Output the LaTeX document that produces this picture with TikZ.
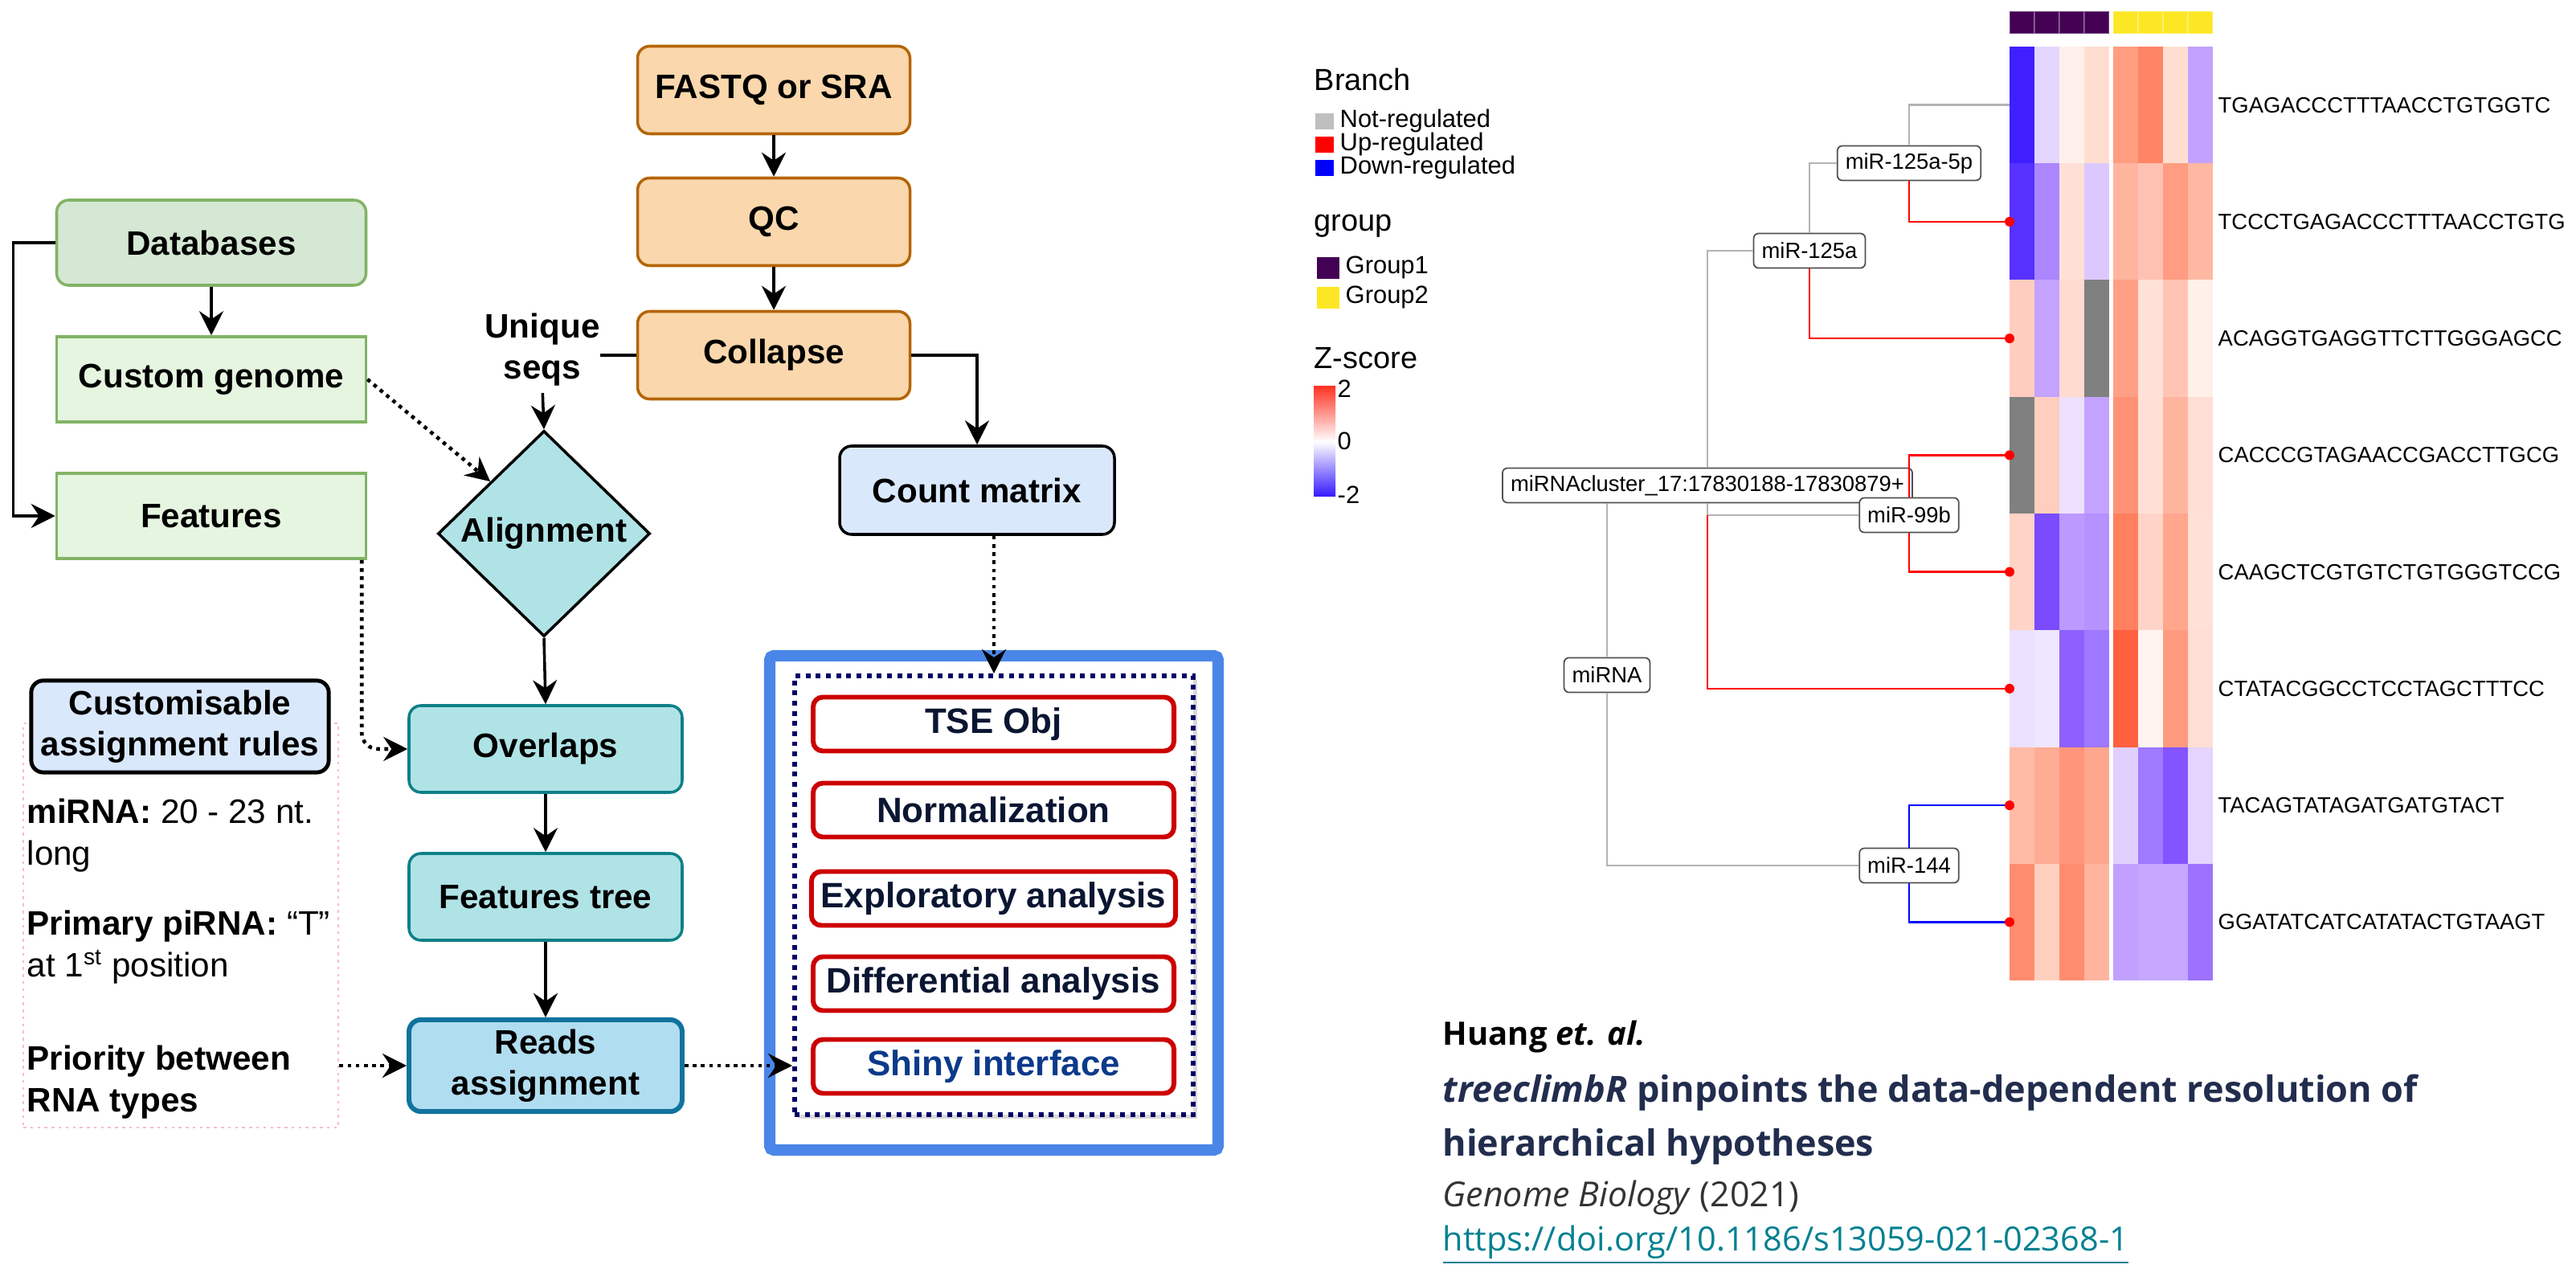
\documentclass[tikz,border=0pt]{standalone}
\usepackage{fontspec}
\setmainfont{Liberation Sans}
\newfontfamily\citefont{Open Sans}
\usepackage{xcolor}
\usepackage{tikz}
\usetikzlibrary{shapes.geometric, arrows.meta, positioning, calc, shadows}
\definecolor{orangefill}{RGB}{250, 215, 172}
\definecolor{orangeline}{RGB}{180, 101, 4}
\definecolor{dbfill}{RGB}{213, 232, 212}
\definecolor{genomefill}{RGB}{229, 245, 224}
\definecolor{greenline}{RGB}{130, 179, 102}
\definecolor{tealfill}{RGB}{176, 227, 230}
\definecolor{tealline}{RGB}{14, 128, 136}
\definecolor{readsfill}{RGB}{177, 221, 240}
\definecolor{readsline}{RGB}{16, 115, 158}
\definecolor{lightblue}{RGB}{218, 232, 252}
\definecolor{pinkline}{RGB}{246, 190, 200}
\definecolor{frameblue}{RGB}{74, 134, 232}
\definecolor{navydot}{RGB}{0, 0, 102}
\definecolor{boxred}{RGB}{204, 0, 0}
\definecolor{darknavy}{RGB}{10, 22, 50}
\definecolor{shinyblue}{RGB}{12, 58, 138}
\definecolor{treegray}{RGB}{179, 179, 179}
\definecolor{labelline}{RGB}{80, 80, 80}
\definecolor{groupone}{RGB}{68, 1, 84}
\definecolor{grouptwo}{RGB}{253, 231, 37}
\definecolor{zred}{RGB}{255, 52, 36}
\definecolor{zblue}{RGB}{52, 24, 255}
\definecolor{titlenavy}{RGB}{34, 45, 78}
\definecolor{citegray}{RGB}{51, 51, 51}
\definecolor{urlteal}{RGB}{0, 128, 145}
\newcommand{\flowfont}{\fontsize{12}{14.6}\selectfont\bfseries}
\newcommand{\toolfont}{\fontsize{12.5}{15}\selectfont\bfseries}
\newcommand{\treefont}{\fontsize{7.8}{9}\selectfont}
\newcommand{\legendfont}{\fontsize{8.8}{10}\selectfont}
\newcommand{\legendtitle}{\fontsize{10.8}{12}\selectfont}
\newcommand{\citesize}{\citefont\fontsize{11.4}{14}\selectfont}
\tikzstyle{orangebox} = [rectangle, rounded corners=0.15cm, draw=orangeline, fill=orangefill, line width=1pt, font=\flowfont, align=center, minimum width=3.39cm, minimum height=1.09cm]
\tikzstyle{greenbox} = [rectangle, draw=greenline, fill=genomefill, line width=1pt, font=\flowfont, align=center, minimum width=3.85cm, minimum height=1.06cm]
\tikzstyle{tealbox} = [rectangle, rounded corners=0.15cm, draw=tealline, fill=tealfill, line width=1pt, font=\flowfont, align=center, minimum width=3.40cm, minimum height=1.08cm]
\tikzstyle{toolbox} = [rectangle, rounded corners=0.12cm, draw=boxred, fill=white, line width=1.7pt, font=\toolfont, text=darknavy, minimum width=4.49cm, minimum height=0.67cm]
\tikzstyle{treelabel} = [rectangle, rounded corners=0.06cm, draw=labelline, fill=white, line width=0.5pt, font=\treefont, minimum height=0.43cm, inner xsep=0.1cm, inner ysep=0pt]
\tikzstyle{seqlabel} = [anchor=west, font=\treefont, inner sep=0pt]
\tikzstyle{ruletext} = [anchor=west, align=left, font=\fontsize{12}{14.8}\selectfont, inner sep=0pt]
\tikzstyle{arrow} = [-{Stealth[length=3mm, width=3mm, inset=1mm]}, line width=1pt]
\tikzstyle{dotarrow} = [-{Stealth[length=3mm, width=3mm, inset=1mm]}, line width=1.3pt, dash pattern=on 1.3pt off 1.6pt]
\tikzstyle{grayline} = [draw=treegray, line width=0.7pt]
\tikzstyle{upline} = [draw=red, line width=0.7pt]
\tikzstyle{downline} = [draw=blue, line width=0.7pt]

\begin{document}
\begin{tikzpicture}
    \useasboundingbox (0,0) rectangle (32.06,-15.94);

    % Input and preprocessing
    \node[orangebox] (fastq) at (9.63,-1.12) {FASTQ or SRA};
    \node[orangebox] (qc) at (9.63,-2.76) {QC};
    \node[orangebox] (collapse) at (9.63,-4.42) {Collapse};
    \draw[arrow] (fastq) -- (qc);
    \draw[arrow] (qc) -- (collapse);

    % Annotation sources
    \node[greenbox, fill=dbfill, rounded corners=0.15cm] (db) at (2.63,-3.02) {Databases};
    \node[greenbox] (genome) at (2.63,-4.72) {Custom genome};
    \node[greenbox] (features) at (2.63,-6.42) {Features};
    \draw[arrow] (db) -- (genome);
    \draw[arrow] (db.west) -- ++(-0.52,0) |- (features.west);

    % Alignment and overlaps
    \node[font=\flowfont, align=center, inner sep=0pt] (uniq) at (6.75,-4.35) {Unique\\seqs};
    \node[diamond, draw, fill=tealfill, line width=1pt, font=\flowfont, inner sep=0pt, minimum width=2.64cm, minimum height=2.56cm] (align) at (6.77,-6.64) {Alignment};
    \node[tealbox] (overlaps) at (6.79,-9.32) {Overlaps};
    \node[tealbox] (ftree) at (6.79,-11.16) {Features tree};
    \node[tealbox, draw=readsline, fill=readsfill, line width=1.7pt, minimum height=1.1cm] (reads) at (6.79,-13.26) {Reads\\assignment};
    \draw[line width=1pt] (collapse.west) -- (uniq.east |- collapse.west);
    \draw[arrow, shorten <=0.08cm] (uniq.south) -- (align.north);
    \draw[dotarrow] (genome.east) -- (align.north west);
    \draw[dotarrow, rounded corners=0.2cm] ([xshift=-0.07cm]features.south east) |- (overlaps.west);
    \draw[arrow] (align.south) -- (overlaps.north);
    \draw[arrow] (overlaps) -- (ftree);
    \draw[arrow] (ftree) -- (reads);

    % Assignment rules
    \node[draw=pinkline, dash pattern=on 1pt off 1.5pt, line width=0.8pt, minimum width=3.92cm, minimum height=5.03cm] (rulezone) at (2.25,-11.515) {};
    \node[rectangle, rounded corners=0.15cm, draw, fill=lightblue, line width=1.4pt, font=\flowfont, align=center, minimum width=3.62cm, minimum height=1.08cm] (rules) at (2.24,-9.04) {Customisable\\assignment rules};
    \node[ruletext] (rule1) at (0.33,-10.40) {\textbf{miRNA:} 20 - 23 nt.\\long};
    \node[ruletext] (rule2) at (0.33,-11.79) {\textbf{Primary piRNA:} “T”\\at 1\textsuperscript{st} position};
    \node[ruletext] (rule3) at (0.33,-13.47) {\textbf{Priority between}\\\textbf{RNA types}};
    \draw[dotarrow] (rulezone.east |- reads.west) -- (reads.west);

    % Count matrix and downstream tools
    \node[rectangle, rounded corners=0.15cm, draw, fill=lightblue, line width=1pt, font=\flowfont, minimum width=3.42cm, minimum height=1.10cm] (cm) at (12.16,-6.10) {Count matrix};
    \draw[arrow] (collapse.east) -| (cm.north);
    \node[draw=frameblue, line width=4pt, rounded corners=0.05cm, minimum width=5.58cm, minimum height=6.15cm] (frame) at (12.37,-11.235) {};
    \node[draw=navydot, fill=white, line width=1.7pt, dash pattern=on 1.7pt off 1.9pt, minimum width=4.96cm, minimum height=5.46cm, drop shadow={shadow xshift=0.05cm, shadow yshift=-0.05cm, fill=black!30}] (tools) at (12.37,-11.14) {};
    \node[toolbox] (tse) at (12.365,-9.01) {TSE Obj};
    \node[toolbox] (norm) at (12.365,-10.08) {Normalization};
    \node[toolbox] (explo) at (12.365,-11.18) {Exploratory analysis};
    \node[toolbox] (diff) at (12.365,-12.24) {Differential analysis};
    \node[toolbox, text=shinyblue] (shiny) at (12.365,-13.27) {Shiny interface};
    \draw[dotarrow] (cm.south -| tools.north) -- (tools.north);
    \draw[dotarrow] (reads.east) -- (reads.east -| tools.west);

    % Legend
    \node[anchor=west, font=\legendtitle, inner sep=0pt] (branchtitle) at (16.35,-0.99) {Branch};
    \fill[black!25] (16.37,-1.41) rectangle (16.60,-1.61);
    \fill[red] (16.37,-1.70) rectangle (16.60,-1.90);
    \fill[blue] (16.37,-1.99) rectangle (16.60,-2.19);
    \node[anchor=west, font=\legendfont, inner sep=0pt] (notreg) at (16.67,-1.51) {Not-regulated};
    \node[anchor=west, font=\legendfont, inner sep=0pt] (upreg) at (16.67,-1.80) {Up-regulated};
    \node[anchor=west, font=\legendfont, inner sep=0pt] (downreg) at (16.67,-2.09) {Down-regulated};
    \node[anchor=west, font=\legendtitle, inner sep=0pt] (grouptitle) at (16.35,-2.81) {group};
    \fill[groupone] (16.39,-3.20) rectangle (16.67,-3.47);
    \fill[grouptwo] (16.39,-3.57) rectangle (16.67,-3.84);
    \node[anchor=west, font=\legendfont, inner sep=0pt] (gone) at (16.74,-3.33) {Group1};
    \node[anchor=west, font=\legendfont, inner sep=0pt] (gtwo) at (16.74,-3.70) {Group2};
    \node[anchor=west, font=\legendtitle, inner sep=0pt] (ztitle) at (16.35,-4.46) {Z-score};
    \shade[top color=zred, bottom color=white] (16.35,-4.81) rectangle (16.62,-5.495);
    \shade[top color=white, bottom color=zblue] (16.35,-5.495) rectangle (16.62,-6.18);
    \node[anchor=west, font=\legendfont, inner sep=0pt] (ztop) at (16.64,-4.84) {2};
    \node[anchor=west, font=\legendfont, inner sep=0pt] (zmid) at (16.64,-5.49) {0};
    \node[anchor=west, font=\legendfont, inner sep=0pt] (zlow) at (16.64,-6.16) {-2};

    % Heatmap
    \foreach \c in {1,...,8} {
        \pgfmathsetmacro{\xl}{25.01+0.31*(\c-1)+0.05*(\c>4)}
        \pgfmathsetmacro{\gc}{\c>4 ? "grouptwo" : "groupone"}
        \fill[\gc] (\xl,-0.14) rectangle ++(0.31,-0.28);
        \draw[white, opacity=0.25, line width=0.3pt] (\xl,-0.14) rectangle ++(0.31,-0.28);
    }
    \foreach \rowcols [count=\r] in {
        {3F1FFF,E3D6FF,FFF0EC,FFDDD0,FF9D80,FF8466,FFDED2,C3A2FF},
        {5631FF,AB86FF,FFE0D6,DCC8FF,FFB49E,FFC2B2,FF9C82,FFB8A2},
        {FFCDBF,C4A3FF,FFDBD0,808080,FF9F86,FFE1D8,FFC4B4,FFF0EA},
        {808080,FFCEBF,EEE0FF,C3A3FF,FF9276,FFE0D6,FFB49E,FFDFD3},
        {FFD3C5,7A4BFF,BC99FF,B592FF,FF7F5E,FFD4C8,FFA68C,FFE1D6},
        {EBE1FF,EFE7FF,8D60FF,9E78FF,FF6040,FFF4EF,FF9A80,FFDFD4},
        {FFBBA6,FFAC94,FF957A,FFA68E,E0D0FF,A07AFF,8354FF,E4D4FF},
        {FF8C6E,FFD0C0,FF8C6E,FFB49E,C2A0FF,C7A6FF,C7A6FF,9C72FF}} {
        \foreach \cellhex [count=\c] in \rowcols {
            \pgfmathsetmacro{\xl}{25.01+0.31*(\c-1)+0.05*(\c>4)}
            \pgfmathsetmacro{\yt}{-0.58-1.4525*(\r-1)}
            \edef\setcell{\noexpand\definecolor{cellc}{HTML}{\cellhex}}\setcell
            \fill[cellc] (\xl,\yt) rectangle ++(0.312,-1.455);
        }
    }
    \foreach \seq [count=\r] in {TGAGACCCTTTAACCTGTGGTC, TCCCTGAGACCCTTTAACCTGTG, ACAGGTGAGGTTCTTGGGAGCC, CACCCGTAGAACCGACCTTGCG, CAAGCTCGTGTCTGTGGGTCCG, CTATACGGCCTCCTAGCTTTCC, TACAGTATAGATGATGTACT, GGATATCATCATATACTGTAAGT} {
        \node[seqlabel] (seq\r) at (27.60,{-0.58-1.4525*(\r-0.5)}) {\seq};
        \coordinate (leaf\r) at (25.01,{-0.58-1.4525*(\r-0.5)});
    }

    % Tree
    \node[treelabel] (n5p) at (23.76,-2.03) {miR-125a-5p};
    \node[treelabel] (n125) at (22.52,-3.12) {miR-125a};
    \node[treelabel] (nclu) at (21.25,-6.04) {miRNAcluster\_17:17830188-17830879+};
    \node[treelabel] (n99) at (23.76,-6.41) {miR-99b};
    \node[treelabel] (nmi) at (20.00,-8.40) {miRNA};
    \node[treelabel] (n144) at (23.76,-10.77) {miR-144};
    \draw[grayline] (n5p.north) |- (leaf1);
    \draw[upline] (n5p.south) |- (leaf2);
    \draw[grayline] (n125.north) |- (n5p.west);
    \draw[upline] (n125.south) |- (leaf3);
    \draw[grayline] (nclu.north) |- (n125.west);
    \draw[grayline] (nclu.south) |- (n99.west);
    \draw[upline] (nclu.south |- n99.west) |- (leaf6);
    \draw[upline] (n99.north) |- (leaf4);
    \draw[upline] (n99.south) |- (leaf5);
    \draw[grayline] (nmi.north |- nclu.south) -- (nmi.north);
    \draw[grayline] (nmi.south) |- (n144.west);
    \draw[downline] (n144.north) |- (leaf7);
    \draw[downline] (n144.south) |- (leaf8);
    \foreach \r in {2,...,8} \fill[red] (leaf\r) circle (0.06);

    % Reference
    \node[anchor=west, font=\citesize\bfseries, inner sep=0pt] (author) at (17.95,-12.90) {Huang \textit{et. al.}};
    \node[anchor=west, font=\citefont\fontsize{12.8}{15}\selectfont\bfseries, text=titlenavy, inner sep=0pt] (title1) at (17.95,-13.60) {\textit{treeclimbR} pinpoints the data-dependent resolution of};
    \node[anchor=west, font=\citefont\fontsize{12.8}{15}\selectfont\bfseries, text=titlenavy, inner sep=0pt] (title2) at (17.95,-14.27) {hierarchical hypotheses};
    \node[anchor=west, font=\citefont\fontsize{12.2}{14}\selectfont, text=citegray, inner sep=0pt] (journal) at (17.95,-14.90) {\textit{Genome Biology} (2021)};
    \node[anchor=west, font=\citefont\fontsize{11.8}{14}\selectfont, text=urlteal, inner sep=0pt] (doi) at (17.95,-15.49) {\underline{https://doi.org/10.1186/s13059-021-02368-1}};
\end{tikzpicture}
\end{document}
